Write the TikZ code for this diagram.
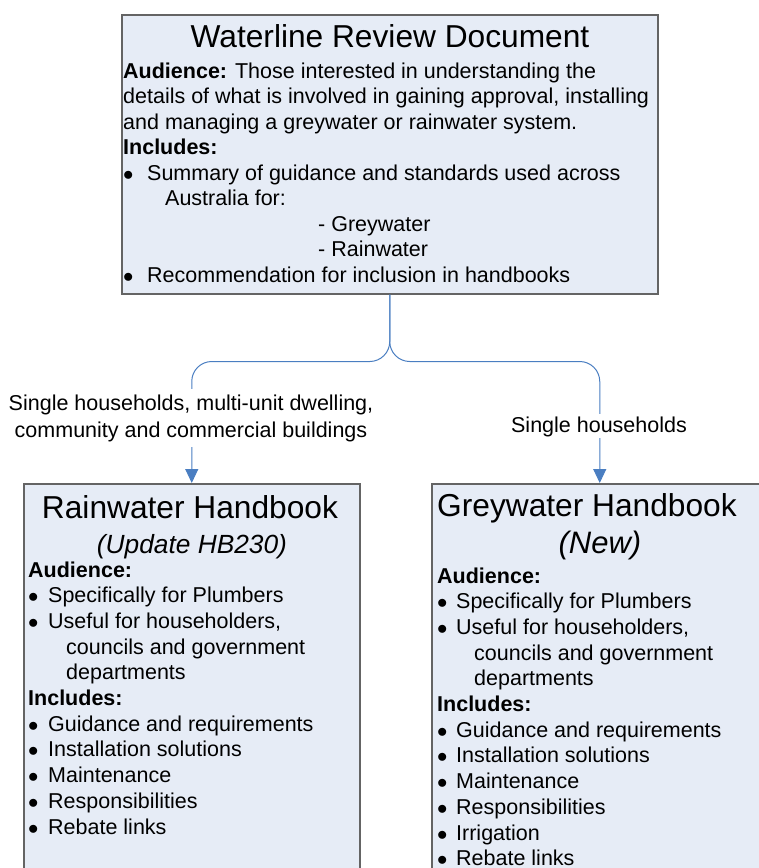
\documentclass[tikz,border=0pt]{standalone}
\usepackage{fontspec}
\setmainfont{Liberation Sans}
\usetikzlibrary{arrows.meta}
\definecolor{boxfill}{RGB}{230,236,246}
\definecolor{boxline}{RGB}{100,100,100}
\definecolor{connblue}{RGB}{74,126,193}
\newcommand{\bul}[1]{\makebox[#1][l]{$\bullet$}}
\begin{document}
\begin{tikzpicture}[x=1pt,y=-1pt,
  box/.style={draw=boxline, line width=1.5pt, fill=boxfill, anchor=north west, inner sep=0pt},
  connline/.style={draw=connblue, line width=1pt, rounded corners=20pt, -{Triangle[length=14pt,width=13pt]}},
  lbl/.style={fill=white, inner sep=2pt, anchor=base, font=\fontsize{21.5}{27}\selectfont},
  ttl/.style={anchor=base, inner sep=0pt, font=\fontsize{31.7}{38}\selectfont},
  body/.style={anchor=base west, inner sep=0pt, font=\fontsize{21.5}{25.7}\selectfont}]
\useasboundingbox (0,0) rectangle (759,868);
\clip (0,0) rectangle (759,868);

% boxes
\node[box, minimum width=536pt, minimum height=279pt] (top) at (121,14) {};
\node[box, minimum width=336pt, minimum height=420pt] (lbox) at (23,483) {};
\node[box, minimum width=336pt, minimum height=420pt] (rbox) at (431,483) {};

% connectors
\draw[connline] (top.south) -- ++(0,67) -| (lbox.north);
\draw[connline] (top.south) -- ++(0,67) -| (rbox.north);

% connector labels
\node[lbl] (llab) at (191,410) {\begin{tabular}[t]{@{}c@{}}Single households, multi-unit dwelling,\\community and commercial buildings\end{tabular}};
\node[lbl] (rlab) at (599,432) {Single households};

% top box text
\node[ttl] (ttop) at (390,47) {Waterline Review Document};
\node[body, font=\fontsize{21.5}{25.5}\selectfont] (btop) at (123,78) {\begin{tabular}[t]{@{}l@{}}
\textbf{Audience:} Those interested in understanding the\\
details of what is involved in gaining approval, installing\\
and managing a greywater or rainwater system.\\
\textbf{Includes:}\\
\bul{24pt}Summary of guidance and standards used across\\
\hspace*{42pt}Australia for:\\
\hspace*{195pt}- Greywater\\
\hspace*{195pt}- Rainwater\\
\bul{24pt}Recommendation for inclusion in handbooks
\end{tabular}};

% left box text
\node[ttl] (tl) at (190,518) {Rainwater Handbook};
\node[ttl, font=\fontsize{26.3}{32}\selectfont\itshape] (sl) at (192,553) {(Update HB230)};
\node[body] (bl) at (28,577) {\begin{tabular}[t]{@{}l@{}}
\textbf{Audience:}\\
\bul{20pt}Specifically for Plumbers\\
\bul{20pt}Useful for householders,\\
\hspace*{38pt}councils and government\\
\hspace*{38pt}departments\\
\textbf{Includes:}\\
\bul{20pt}Guidance and requirements\\
\bul{20pt}Installation solutions\\
\bul{20pt}Maintenance\\
\bul{20pt}Responsibilities\\
\bul{20pt}Rebate links
\end{tabular}};

% right box text
\node[ttl, anchor=base west] (tr) at (437,516) {Greywater Handbook};
\node[ttl, font=\fontsize{31}{38}\selectfont\itshape] (sr) at (600,553) {(New)};
\node[body] (br) at (437,583) {\begin{tabular}[t]{@{}l@{}}
\textbf{Audience:}\\
\bul{19pt}Specifically for Plumbers\\
\bul{19pt}Useful for householders,\\
\hspace*{37pt}councils and government\\
\hspace*{37pt}departments\\
\textbf{Includes:}\\
\bul{19pt}Guidance and requirements\\
\bul{19pt}Installation solutions\\
\bul{19pt}Maintenance\\
\bul{19pt}Responsibilities\\
\bul{19pt}Irrigation\\
\bul{19pt}Rebate links
\end{tabular}};
\end{tikzpicture}
\end{document}
